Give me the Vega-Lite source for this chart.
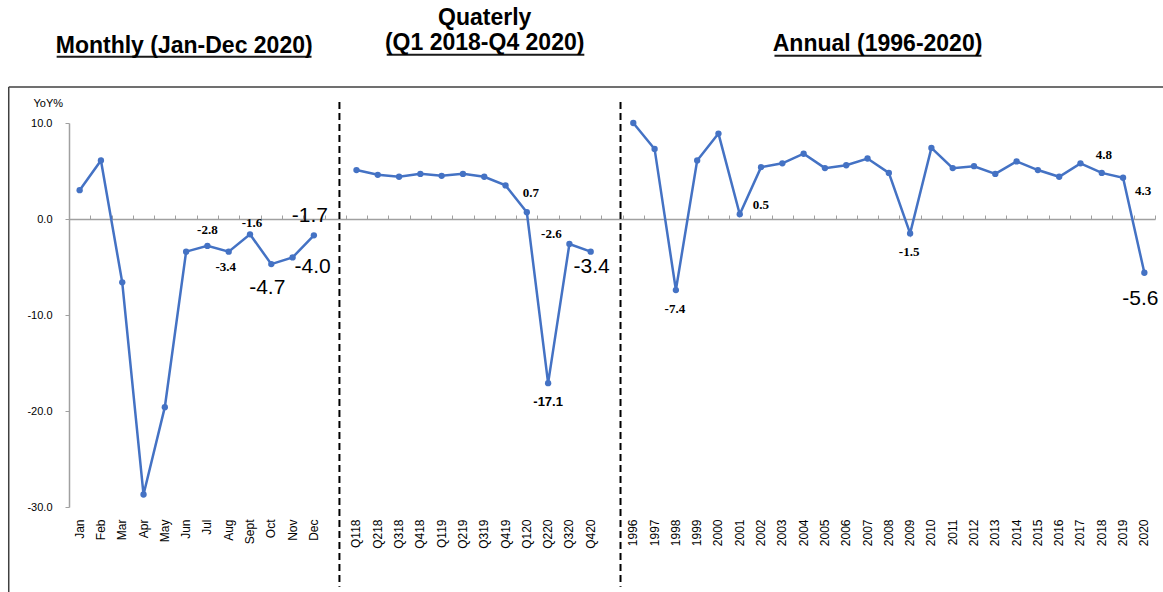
{
  "$schema": "https://vega.github.io/schema/vega-lite/v6.json",
  "width": 1086,
  "height": 384,
  "autosize": {"type": "none"},
  "padding": {"left": 69, "top": 123, "right": 8, "bottom": 85},
  "background": "white",
  "config": {
    "view": {"stroke": null},
    "font": "Liberation Sans",
    "locale": {"number": {"decimal": ".", "thousands": ",", "grouping": [3], "currency": ["$", ""], "minus": "-"}}
  },
  "data": {"values": [
      {"period": "Jan", "value": 3.0, "section": "Monthly"},
      {"period": "Feb", "value": 6.1, "section": "Monthly"},
      {"period": "Mar", "value": -6.6, "section": "Monthly"},
      {"period": "Apr", "value": -28.7, "section": "Monthly"},
      {"period": "May", "value": -19.6, "section": "Monthly"},
      {"period": "Jun", "value": -3.4, "section": "Monthly"},
      {"period": "Jul", "value": -2.8, "section": "Monthly"},
      {"period": "Aug", "value": -3.4, "section": "Monthly"},
      {"period": "Sept", "value": -1.6, "section": "Monthly"},
      {"period": "Oct", "value": -4.7, "section": "Monthly"},
      {"period": "Nov", "value": -4.0, "section": "Monthly"},
      {"period": "Dec", "value": -1.7, "section": "Monthly"},
      {"period": "Q118", "value": 5.1, "section": "Quarterly"},
      {"period": "Q218", "value": 4.6, "section": "Quarterly"},
      {"period": "Q318", "value": 4.4, "section": "Quarterly"},
      {"period": "Q418", "value": 4.7, "section": "Quarterly"},
      {"period": "Q119", "value": 4.5, "section": "Quarterly"},
      {"period": "Q219", "value": 4.7, "section": "Quarterly"},
      {"period": "Q319", "value": 4.4, "section": "Quarterly"},
      {"period": "Q419", "value": 3.5, "section": "Quarterly"},
      {"period": "Q120", "value": 0.7, "section": "Quarterly"},
      {"period": "Q220", "value": -17.1, "section": "Quarterly"},
      {"period": "Q320", "value": -2.6, "section": "Quarterly"},
      {"period": "Q420", "value": -3.4, "section": "Quarterly"},
      {"period": "1996", "value": 10.0, "section": "Annual"},
      {"period": "1997", "value": 7.3, "section": "Annual"},
      {"period": "1998", "value": -7.4, "section": "Annual"},
      {"period": "1999", "value": 6.1, "section": "Annual"},
      {"period": "2000", "value": 8.9, "section": "Annual"},
      {"period": "2001", "value": 0.5, "section": "Annual"},
      {"period": "2002", "value": 5.4, "section": "Annual"},
      {"period": "2003", "value": 5.8, "section": "Annual"},
      {"period": "2004", "value": 6.8, "section": "Annual"},
      {"period": "2005", "value": 5.3, "section": "Annual"},
      {"period": "2006", "value": 5.6, "section": "Annual"},
      {"period": "2007", "value": 6.3, "section": "Annual"},
      {"period": "2008", "value": 4.8, "section": "Annual"},
      {"period": "2009", "value": -1.5, "section": "Annual"},
      {"period": "2010", "value": 7.4, "section": "Annual"},
      {"period": "2011", "value": 5.3, "section": "Annual"},
      {"period": "2012", "value": 5.5, "section": "Annual"},
      {"period": "2013", "value": 4.7, "section": "Annual"},
      {"period": "2014", "value": 6.0, "section": "Annual"},
      {"period": "2015", "value": 5.1, "section": "Annual"},
      {"period": "2016", "value": 4.4, "section": "Annual"},
      {"period": "2017", "value": 5.8, "section": "Annual"},
      {"period": "2018", "value": 4.8, "section": "Annual"},
      {"period": "2019", "value": 4.3, "section": "Annual"},
      {"period": "2020", "value": -5.6, "section": "Annual"},
      {"period": " ", "section": "divider"},
      {"period": "  ", "section": "divider"},
      {"period": "Jun", "section": "heading", "title": "Monthly (Jan-Dec 2020)"},
      {"period": "Q319", "section": "heading", "title": "Quaterly"},
      {"period": "Q319", "section": "subheading", "title": "(Q1 2018-Q4 2020)"},
      {"period": "2007", "section": "heading2", "title": "Annual (1996-2020)"}
  ]},
  "layer": [
    {
      "transform": [{"filter": {"field": "section", "oneOf": ["Monthly", "Quarterly", "Annual"]}}],
      "mark": {"type": "line", "color": "#4472C4", "strokeWidth": 2.5},
      "encoding": {
        "x": {
          "field": "period",
          "type": "nominal",
          "sort": null,
          "scale": {
            "type": "band",
            "paddingInner": 0,
            "paddingOuter": 0,
            "domain": ["Jan", "Feb", "Mar", "Apr", "May", "Jun", "Jul", "Aug", "Sept", "Oct", "Nov", "Dec", " ",
              "Q118", "Q218", "Q318", "Q418", "Q119", "Q219", "Q319", "Q419", "Q120", "Q220", "Q320", "Q420", "  ",
              "1996", "1997", "1998", "1999", "2000", "2001", "2002", "2003", "2004", "2005", "2006", "2007", "2008",
              "2009", "2010", "2011", "2012", "2013", "2014", "2015", "2016", "2017", "2018", "2019", "2020"]
          },
          "axis": {
            "orient": "bottom",
            "title": null,
            "labelAngle": 270,
            "domain": false,
            "ticks": false,
            "tickSize": 0,
            "labelPadding": 12,
            "labelFontSize": 12,
            "labelColor": "black"
          }
        },
        "y": {
          "field": "value",
          "type": "quantitative",
          "scale": {"domain": [-30, 10], "nice": false, "zero": false},
          "axis": {
            "title": "YoY%",
            "titleAngle": 0,
            "titleAlign": "left",
            "titleBaseline": "middle",
            "titleX": -36,
            "titleY": -20,
            "titleFontSize": 11,
            "titleFontWeight": "normal",
            "titleColor": "black",
            "values": [-30, -20, -10, 0, 10],
            "format": ".1f",
            "labelFontSize": 11,
            "labelColor": "black",
            "labelPadding": 13,
            "tickSize": 4,
            "domainColor": "#A0A0A0",
            "tickColor": "#A0A0A0",
            "domainWidth": 1.5,
            "grid": false
          }
        },
        "detail": {"field": "section", "type": "nominal"}
      }
    },
    {
      "transform": [{"filter": {"field": "section", "oneOf": ["Monthly", "Quarterly", "Annual"]}}],
      "mark": {"type": "point", "filled": true, "size": 40, "opacity": 1, "color": "#4472C4"},
      "encoding": {
        "x": {
          "field": "period",
          "type": "nominal",
          "sort": null,
          "axis": {
            "orient": "top",
            "offset": -96,
            "labels": false,
            "title": null,
            "domainColor": "#A0A0A0",
            "domainWidth": 1.5,
            "tickColor": "#A0A0A0",
            "tickSize": 4,
            "tickBand": "extent"
          }
        },
        "y": {"field": "value", "type": "quantitative"}
      }
    },
    {
      "transform": [{"filter": {"field": "period", "equal": " "}}],
      "mark": {"type": "rule", "color": "black", "strokeWidth": 2, "strokeDash": [7, 4]},
      "encoding": {
        "x": {"field": "period", "type": "nominal", "sort": null, "bandPosition": 0.7, "axis": null},
        "y": {"datum": 12.2},
        "y2": {"datum": -38.3}
      }
    },
    {
      "transform": [{"filter": {"field": "period", "equal": "  "}}],
      "mark": {"type": "rule", "color": "black", "strokeWidth": 2, "strokeDash": [7, 4]},
      "encoding": {
        "x": {"field": "period", "type": "nominal", "sort": null, "bandPosition": 0.9, "axis": null},
        "y": {"datum": 12.2},
        "y2": {"datum": -38.3}
      }
    },
    {
      "transform": [{"filter": {"field": "title", "equal": "Monthly (Jan-Dec 2020)"}}],
      "mark": {"type": "rule", "color": "#1a1a1a", "strokeWidth": 2},
      "encoding": {
        "x": {"datum": "Jan", "bandPosition": -0.58, "axis": null},
        "x2": {"datum": "Dec", "bandPosition": 0.39},
        "y": {"datum": 16.9}
      }
    },
    {
      "transform": [{"filter": {"field": "title", "equal": "(Q1 2018-Q4 2020)"}}],
      "mark": {"type": "rule", "color": "#1a1a1a", "strokeWidth": 2},
      "encoding": {
        "x": {"datum": "Q218", "bandPosition": 0.92, "axis": null},
        "x2": {"datum": "Q420", "bandPosition": 0.2},
        "y": {"datum": 17.1}
      }
    },
    {
      "transform": [{"filter": {"field": "title", "equal": "Annual (1996-2020)"}}],
      "mark": {"type": "rule", "color": "#1a1a1a", "strokeWidth": 2},
      "encoding": {
        "x": {"datum": "2003", "bandPosition": 0.13, "axis": null},
        "x2": {"datum": "2012", "bandPosition": 0.85},
        "y": {"datum": 17.0}
      }
    },
    {
      "transform": [{"filter": {"field": "title", "equal": "Monthly (Jan-Dec 2020)"}}],
      "mark": {"type": "rule", "color": "#404040", "strokeWidth": 1.5},
      "encoding": {
        "x": {"datum": "Jan", "bandPosition": -2.83, "axis": null},
        "x2": {"datum": "2020", "bandPosition": 1.4},
        "y": {"datum": 13.75}
      }
    },
    {
      "transform": [{"filter": {"field": "title", "equal": "Monthly (Jan-Dec 2020)"}}],
      "mark": {"type": "rule", "color": "#404040", "strokeWidth": 1.5},
      "encoding": {
        "x": {"datum": "Jan", "bandPosition": -2.83, "axis": null},
        "y": {"datum": 13.75},
        "y2": {"datum": -39.5}
      }
    },
    {
      "transform": [{"filter": {"field": "title", "equal": "Monthly (Jan-Dec 2020)"}}],
      "mark": {"type": "text", "font": "Liberation Sans", "fontWeight": "bold", "fontSize": 23, "baseline": "alphabetic", "align": "center", "color": "black"},
      "encoding": {
        "x": {"field": "period", "type": "nominal", "sort": null, "bandPosition": 0.41, "axis": null},
        "y": {"datum": 17.3},
        "text": {"field": "title", "type": "nominal"}
      }
    },
    {
      "transform": [{"filter": {"field": "title", "equal": "Quaterly"}}],
      "mark": {"type": "text", "font": "Liberation Sans", "fontWeight": "bold", "fontSize": 23, "baseline": "alphabetic", "align": "center", "color": "black"},
      "encoding": {
        "x": {"field": "period", "type": "nominal", "sort": null, "bandPosition": 0.52, "axis": null},
        "y": {"datum": 20.2},
        "text": {"field": "title", "type": "nominal"}
      }
    },
    {
      "transform": [{"filter": {"field": "title", "equal": "(Q1 2018-Q4 2020)"}}],
      "mark": {"type": "text", "font": "Liberation Sans", "fontWeight": "bold", "fontSize": 23, "baseline": "alphabetic", "align": "center", "color": "black"},
      "encoding": {
        "x": {"field": "period", "type": "nominal", "sort": null, "bandPosition": 0.52, "axis": null},
        "y": {"datum": 17.6},
        "text": {"field": "title", "type": "nominal"}
      }
    },
    {
      "transform": [{"filter": {"field": "title", "equal": "Annual (1996-2020)"}}],
      "mark": {"type": "text", "font": "Liberation Sans", "fontWeight": "bold", "fontSize": 23, "baseline": "alphabetic", "align": "center", "color": "black"},
      "encoding": {
        "x": {"field": "period", "type": "nominal", "sort": null, "bandPosition": 0.97, "axis": null},
        "y": {"datum": 17.5},
        "text": {"field": "title", "type": "nominal"}
      }
    },
    {
      "transform": [{"filter": {"field": "period", "oneOf": ["Jul"]}}, {"filter": {"field": "section", "equal": "Monthly"}}],
      "mark": {"type": "text", "font": "Liberation Serif", "fontWeight": "bold", "fontSize": 13, "dx": 0, "dy": -16, "color": "black"},
      "encoding": {"x": {"field": "period", "type": "nominal", "sort": null, "axis": null}, "y": {"field": "value", "type": "quantitative"}, "text": {"field": "value", "type": "quantitative", "format": ".1f"}}
    },
    {
      "transform": [{"filter": {"field": "period", "oneOf": ["Aug"]}}],
      "mark": {"type": "text", "font": "Liberation Serif", "fontWeight": "bold", "fontSize": 13, "dx": -3, "dy": 15, "color": "black"},
      "encoding": {"x": {"field": "period", "type": "nominal", "sort": null, "axis": null}, "y": {"field": "value", "type": "quantitative"}, "text": {"field": "value", "type": "quantitative", "format": ".1f"}}
    },
    {
      "transform": [{"filter": {"field": "period", "oneOf": ["Sept"]}}],
      "mark": {"type": "text", "font": "Liberation Serif", "fontWeight": "bold", "fontSize": 13, "dx": 2, "dy": -11, "color": "black"},
      "encoding": {"x": {"field": "period", "type": "nominal", "sort": null, "axis": null}, "y": {"field": "value", "type": "quantitative"}, "text": {"field": "value", "type": "quantitative", "format": ".1f"}}
    },
    {
      "transform": [{"filter": {"field": "period", "oneOf": ["Q120"]}}],
      "mark": {"type": "text", "font": "Liberation Serif", "fontWeight": "bold", "fontSize": 13, "dx": 4, "dy": -19, "color": "black"},
      "encoding": {"x": {"field": "period", "type": "nominal", "sort": null, "axis": null}, "y": {"field": "value", "type": "quantitative"}, "text": {"field": "value", "type": "quantitative", "format": ".1f"}}
    },
    {
      "transform": [{"filter": {"field": "period", "oneOf": ["Q220"]}}],
      "mark": {"type": "text", "font": "Liberation Sans", "fontWeight": "bold", "fontSize": 13, "dx": 0, "dy": 19, "color": "black"},
      "encoding": {"x": {"field": "period", "type": "nominal", "sort": null, "axis": null}, "y": {"field": "value", "type": "quantitative"}, "text": {"field": "value", "type": "quantitative", "format": ".1f"}}
    },
    {
      "transform": [{"filter": {"field": "period", "oneOf": ["Q320"]}}],
      "mark": {"type": "text", "font": "Liberation Serif", "fontWeight": "bold", "fontSize": 13, "dx": -18, "dy": -10, "color": "black"},
      "encoding": {"x": {"field": "period", "type": "nominal", "sort": null, "axis": null}, "y": {"field": "value", "type": "quantitative"}, "text": {"field": "value", "type": "quantitative", "format": ".1f"}}
    },
    {
      "transform": [{"filter": {"field": "period", "oneOf": ["1998", "2009"]}}],
      "mark": {"type": "text", "font": "Liberation Serif", "fontWeight": "bold", "fontSize": 13, "dx": -1, "dy": 19, "color": "black"},
      "encoding": {"x": {"field": "period", "type": "nominal", "sort": null, "axis": null}, "y": {"field": "value", "type": "quantitative"}, "text": {"field": "value", "type": "quantitative", "format": ".1f"}}
    },
    {
      "transform": [{"filter": {"field": "period", "oneOf": ["2001"]}}],
      "mark": {"type": "text", "font": "Liberation Serif", "fontWeight": "bold", "fontSize": 13, "dx": 21, "dy": -9, "color": "black"},
      "encoding": {"x": {"field": "period", "type": "nominal", "sort": null, "axis": null}, "y": {"field": "value", "type": "quantitative"}, "text": {"field": "value", "type": "quantitative", "format": ".1f"}}
    },
    {
      "transform": [{"filter": {"field": "period", "oneOf": ["2018"]}}],
      "mark": {"type": "text", "font": "Liberation Serif", "fontWeight": "bold", "fontSize": 13, "dx": 2, "dy": -18, "color": "black"},
      "encoding": {"x": {"field": "period", "type": "nominal", "sort": null, "axis": null}, "y": {"field": "value", "type": "quantitative"}, "text": {"field": "value", "type": "quantitative", "format": ".1f"}}
    },
    {
      "transform": [{"filter": {"field": "period", "oneOf": ["2019"]}}],
      "mark": {"type": "text", "font": "Liberation Serif", "fontWeight": "bold", "fontSize": 13, "dx": 20, "dy": 13, "color": "black"},
      "encoding": {"x": {"field": "period", "type": "nominal", "sort": null, "axis": null}, "y": {"field": "value", "type": "quantitative"}, "text": {"field": "value", "type": "quantitative", "format": ".1f"}}
    },
    {
      "transform": [{"filter": {"field": "period", "oneOf": ["Oct"]}}],
      "mark": {"type": "text", "font": "Liberation Sans", "fontSize": 21, "dx": -4, "dy": 24, "color": "black"},
      "encoding": {"x": {"field": "period", "type": "nominal", "sort": null, "axis": null}, "y": {"field": "value", "type": "quantitative"}, "text": {"field": "value", "type": "quantitative", "format": ".1f"}}
    },
    {
      "transform": [{"filter": {"field": "period", "oneOf": ["Nov"]}}],
      "mark": {"type": "text", "font": "Liberation Sans", "fontSize": 21, "dx": 20, "dy": 10, "color": "black"},
      "encoding": {"x": {"field": "period", "type": "nominal", "sort": null, "axis": null}, "y": {"field": "value", "type": "quantitative"}, "text": {"field": "value", "type": "quantitative", "format": ".1f"}}
    },
    {
      "transform": [{"filter": {"field": "period", "oneOf": ["Dec"]}}],
      "mark": {"type": "text", "font": "Liberation Sans", "fontSize": 21, "dx": -4, "dy": -19, "color": "black"},
      "encoding": {"x": {"field": "period", "type": "nominal", "sort": null, "axis": null}, "y": {"field": "value", "type": "quantitative"}, "text": {"field": "value", "type": "quantitative", "format": ".1f"}}
    },
    {
      "transform": [{"filter": {"field": "period", "oneOf": ["Q420"]}}],
      "mark": {"type": "text", "font": "Liberation Sans", "fontSize": 21, "dx": 1, "dy": 15, "color": "black"},
      "encoding": {"x": {"field": "period", "type": "nominal", "sort": null, "axis": null}, "y": {"field": "value", "type": "quantitative"}, "text": {"field": "value", "type": "quantitative", "format": ".1f"}}
    },
    {
      "transform": [{"filter": {"field": "period", "oneOf": ["2020"]}}],
      "mark": {"type": "text", "font": "Liberation Sans", "fontSize": 21, "dx": -4, "dy": 26, "color": "black"},
      "encoding": {"x": {"field": "period", "type": "nominal", "sort": null, "axis": null}, "y": {"field": "value", "type": "quantitative"}, "text": {"field": "value", "type": "quantitative", "format": ".1f"}}
    }
  ],
  "resolve": {"axis": {"x": "independent"}}
}
